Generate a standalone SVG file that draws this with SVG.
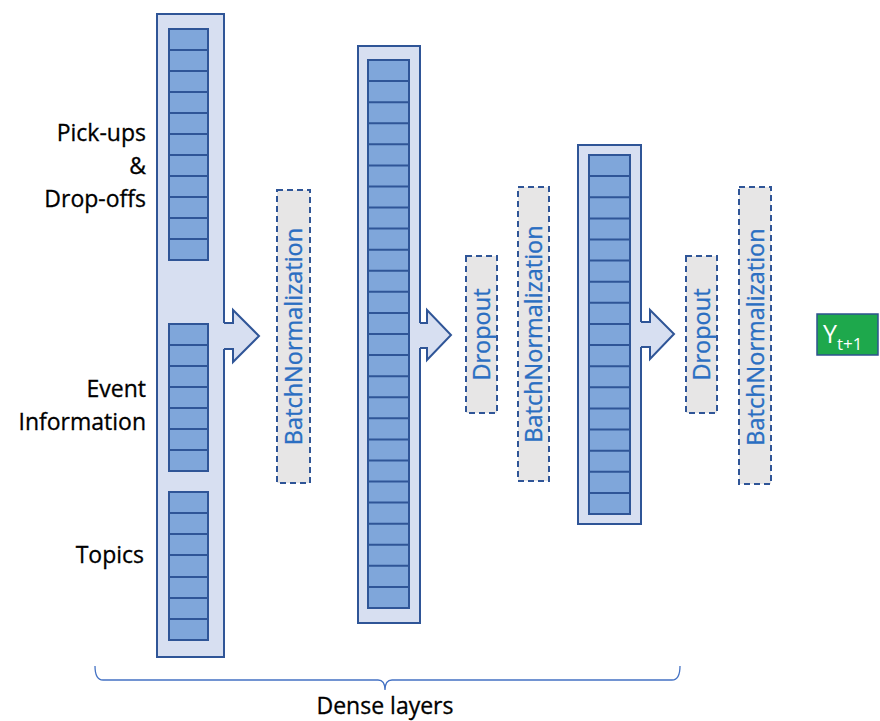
<svg xmlns="http://www.w3.org/2000/svg" width="880" height="721" viewBox="0 0 880 721">
  <style>
    .col { fill: #D7DFF1; stroke: #2F5597; stroke-width: 2; }
    .arrowfill { fill: #D7DFF1; stroke: none; }
    .arrowline { fill: none; stroke: #2F5597; stroke-width: 2; stroke-linejoin: miter; }
    .cells { fill: #7FA6DA; stroke: #2F5597; stroke-width: 2; }
    .grid { fill: none; stroke: #2F5597; stroke-width: 2; }
    .dash { fill: #E7E6E6; stroke: #2F5597; stroke-width: 2; stroke-dasharray: 6 4; }
    .vlabel { font-family: "Open Sans", "Liberation Sans", sans-serif; font-size: 23.5px; fill: #2A6EC2; text-anchor: middle; stroke: #2A6EC2; stroke-width: 0.35; }
    .label { font-family: "Open Sans", "Liberation Sans", sans-serif; font-size: 23px; fill: #000000; text-anchor: end; stroke: #000000; stroke-width: 0.3; }
    .brace { fill: none; stroke: #4472C4; stroke-width: 1.3; }
  </style>

  <!-- Input dense layer with three feature groups -->
  <g id="dense1">
    <rect class="col" x="157" y="14" width="67" height="643"/>
    <polygon class="arrowfill" points="222,323 233,323 233,310 259,336 233,362 233,349 222,349"/>
    <polyline class="arrowline" points="224,323 233,323 233,310 259,336 233,362 233,349 224,349"/>
    <rect class="cells" x="169" y="29" width="39" height="231"/>
    <path class="grid" d="M169,50H208M169,71H208M169,92H208M169,113H208M169,134H208M169,155H208M169,176H208M169,197H208M169,218H208M169,239H208"/>
    <rect class="cells" x="169" y="324" width="39" height="147"/>
    <path class="grid" d="M169,345H208M169,366H208M169,387H208M169,408H208M169,429H208M169,450H208"/>
    <rect class="cells" x="169" y="492" width="39" height="148"/>
    <path class="grid" d="M169,513H208M169,534H208M169,555H208M169,577H208M169,598H208M169,619H208"/>
  </g>

  <!-- Feature group labels -->
  <g id="labels">
    <text class="label" x="146" y="141">Pick-ups</text>
    <text class="label" x="146" y="174">&amp;</text>
    <text class="label" x="146" y="207">Drop-offs</text>
    <text class="label" x="146" y="397">Event</text>
    <text class="label" x="146" y="430">Information</text>
    <text class="label" x="144" y="563">Topics</text>
  </g>

  <g id="batchnorm1">
    <rect class="dash" x="277" y="190" width="33" height="293"/>
    <text class="vlabel" transform="translate(293.5,336.5) rotate(-90)" y="8.5">BatchNormalization</text>
  </g>

  <!-- Second dense layer -->
  <g id="dense2">
    <rect class="col" x="358" y="46" width="62" height="577"/>
    <polygon class="arrowfill" points="418,323 427,323 427,310 451,335 427,360 427,348 418,348"/>
    <polyline class="arrowline" points="420,323 427,323 427,310 451,335 427,360 427,348 420,348"/>
    <rect class="cells" x="368" y="60" width="41" height="548"/>
    <path class="grid" d="M368,81.1H409M368,102.2H409M368,123.2H409M368,144.3H409M368,165.4H409M368,186.5H409M368,207.5H409M368,228.6H409M368,249.7H409M368,270.8H409M368,291.8H409M368,312.9H409M368,334H409M368,355.1H409M368,376.2H409M368,397.2H409M368,418.3H409M368,439.4H409M368,460.5H409M368,481.5H409M368,502.6H409M368,523.7H409M368,544.8H409M368,565.8H409M368,586.9H409"/>
  </g>

  <g id="dropout1">
    <rect class="dash" x="466" y="256" width="31" height="157"/>
    <text class="vlabel" transform="translate(481.5,334.5) rotate(-90)" y="8.5">Dropout</text>
  </g>

  <g id="batchnorm2">
    <rect class="dash" x="518" y="187" width="31" height="294"/>
    <text class="vlabel" transform="translate(533.5,334) rotate(-90)" y="8.5">BatchNormalization</text>
  </g>

  <!-- Third dense layer -->
  <g id="dense3">
    <rect class="col" x="578" y="145" width="63" height="379"/>
    <polygon class="arrowfill" points="639,322 650,322 650,310 674,334 650,359 650,347 639,347"/>
    <polyline class="arrowline" points="641,322 650,322 650,310 674,334 650,359 650,347 641,347"/>
    <rect class="cells" x="589" y="155" width="41" height="359"/>
    <path class="grid" d="M589,176.1H630M589,197.2H630M589,218.4H630M589,239.5H630M589,260.6H630M589,281.7H630M589,302.8H630M589,324H630M589,345.1H630M589,366.2H630M589,387.3H630M589,408.4H630M589,429.6H630M589,450.7H630M589,471.8H630M589,492.9H630"/>
  </g>

  <g id="dropout2">
    <rect class="dash" x="686" y="256" width="31" height="157"/>
    <text class="vlabel" transform="translate(701.5,334.5) rotate(-90)" y="8.5">Dropout</text>
  </g>

  <g id="batchnorm3">
    <rect class="dash" x="739" y="187" width="32" height="297"/>
    <text class="vlabel" transform="translate(755,337) rotate(-90)" y="8.5">BatchNormalization</text>
  </g>

  <!-- Output -->
  <g id="output">
    <rect x="817" y="314" width="61" height="41" fill="#1EA84C" stroke="#2F528F" stroke-width="1.5"/>
    <text x="823" y="343" font-family="'Open Sans', 'Liberation Sans', sans-serif" font-size="25" fill="#FFFFFF">Y<tspan font-size="17" dy="7">t+1</tspan></text>
  </g>

  <!-- Bracket spanning the dense layers -->
  <g id="connectors">
    <path class="brace" d="M95,666 Q95,680 103,680 L378,680 Q385,680 385,690 Q385,680 392,680 L672,680 Q680,680 680,666"/>
  </g>
  <g id="dense-caption">
    <text x="385" y="714" font-family="'Open Sans', 'Liberation Sans', sans-serif" font-size="23px" fill="#000000" stroke="#000000" stroke-width="0.3" text-anchor="middle">Dense layers</text>
  </g>
</svg>
